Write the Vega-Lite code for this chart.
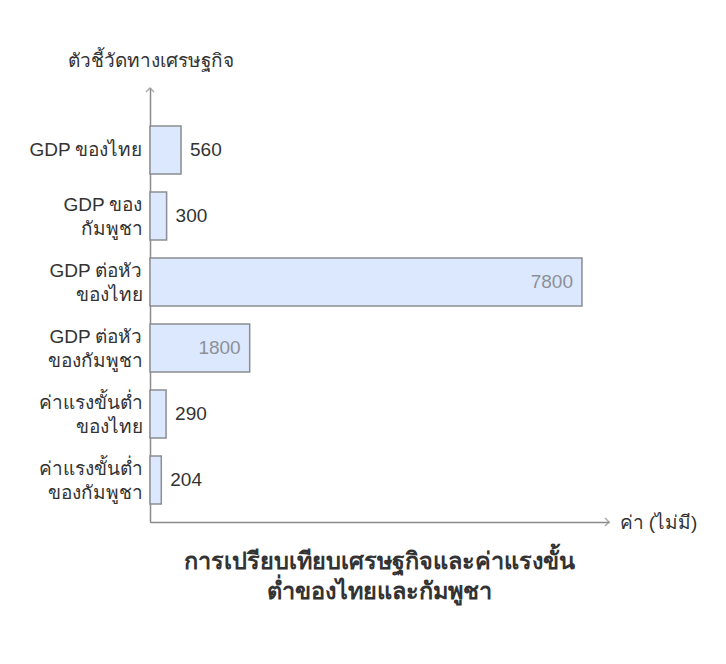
{
  "$schema": "https://vega.github.io/schema/vega-lite/v6.json",
  "width": 459,
  "height": 434,
  "autosize": {"type": "none"},
  "padding": {"left": 150, "top": 88, "right": 117, "bottom": 142},
  "background": "white",
  "config": {
    "view": {"stroke": null},
    "font": "Liberation Sans, Arial, sans-serif"
  },
  "title": {
    "text": ["การเปรียบเทียบเศรษฐกิจและค่าแรงขั้น", "ต่ำของไทยและกัมพูชา"],
    "orient": "bottom",
    "anchor": "middle",
    "fontSize": 23.5,
    "fontWeight": "bold",
    "color": "#333333",
    "lineHeight": 30,
    "offset": 18
  },
  "data": {
    "values": [
      {"indicator": "GDP ของไทย", "value": 560},
      {"indicator": "GDP ของ|กัมพูชา", "value": 300},
      {"indicator": "GDP ต่อหัว|ของไทย", "value": 7800},
      {"indicator": "GDP ต่อหัว|ของกัมพูชา", "value": 1800},
      {"indicator": "ค่าแรงขั้นต่ำ|ของไทย", "value": 290},
      {"indicator": "ค่าแรงขั้นต่ำ|ของกัมพูชา", "value": 204}
    ]
  },
  "encoding": {
    "y": {
      "field": "indicator",
      "type": "nominal",
      "sort": null,
      "scale": {"paddingInner": 0.2727, "paddingOuter": 0.4242, "align": 0.68},
      "axis": {
        "title": "ตัวชี้วัดทางเศรษฐกิจ",
        "titleAngle": 0,
        "titleX": 0,
        "titleY": -28,
        "titleAlign": "center",
        "titleBaseline": "middle",
        "titleFontSize": 19,
        "titleFontWeight": "normal",
        "titleColor": "#333333",
        "labelExpr": "split(datum.label, '|')",
        "labelFontSize": 19,
        "labelColor": "#333333",
        "labelLineHeight": 24,
        "labelPadding": 8,
        "labelOffset": {"condition": {"test": "indexof(datum.value, '|') >= 0", "value": -11}, "value": 0},
        "ticks": false,
        "domainColor": "#8a8a8a",
        "domainWidth": 1.5,
        "labelLimit": 200
      }
    },
    "x": {
      "field": "value",
      "type": "quantitative",
      "scale": {"domain": [0, 8288], "nice": false},
      "axis": {
        "title": "ค่า (ไม่มี)",
        "titleX": 469,
        "titleY": 0,
        "titleAlign": "left",
        "titleBaseline": "middle",
        "titleFontSize": 19,
        "titleFontWeight": "normal",
        "titleColor": "#333333",
        "labels": false,
        "ticks": false,
        "grid": false,
        "domainColor": "#8a8a8a",
        "domainWidth": 1.5
      }
    }
  },
  "layer": [
    {
      "mark": {"type": "bar", "fill": "#dce8fd", "stroke": "#8a8d93", "strokeWidth": 1.5, "cornerRadius": 0}
    },
    {
      "transform": [{"filter": "datum.value < 1000"}],
      "mark": {"type": "text", "align": "left", "baseline": "middle", "dx": 9, "fontSize": 19, "color": "#333333"},
      "encoding": {"text": {"field": "value", "type": "quantitative", "format": "d"}}
    },
    {
      "transform": [{"filter": "datum.value >= 1000"}],
      "mark": {"type": "text", "align": "right", "baseline": "middle", "dx": -9, "fontSize": 19, "color": "#8c9199"},
      "encoding": {"text": {"field": "value", "type": "quantitative", "format": "d"}}
    },
    {
      "data": {"values": [{"tip": 8288}]},
      "mark": {"type": "point", "shape": "M -1 -1 L 0 0 L -1 1", "filled": false, "stroke": "#8a8a8a", "strokeWidth": 1.5, "size": 64},
      "encoding": {
        "x": {"field": "tip", "type": "quantitative"},
        "y": {"value": {"expr": "height"}}
      }
    },
    {
      "data": {"values": [{"tip": 0}]},
      "mark": {"type": "point", "shape": "M -1 1 L 0 0 L 1 1", "filled": false, "stroke": "#8a8a8a", "strokeWidth": 1.5, "size": 64},
      "encoding": {
        "x": {"field": "tip", "type": "quantitative"},
        "y": {"value": 0}
      }
    }
  ]
}
